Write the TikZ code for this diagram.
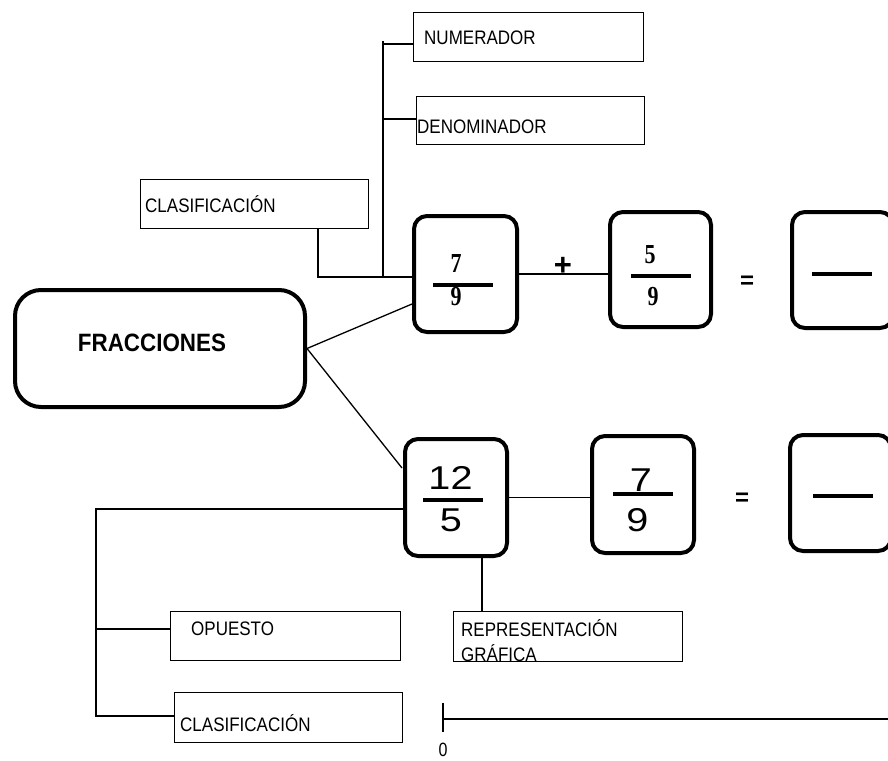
\documentclass[tikz,border=0pt]{standalone}
\usepackage{graphicx}
\usepackage{fontspec}
\setmainfont{Liberation Sans}
\newfontfamily\digserif{Liberation Serif}
\usetikzlibrary{calc}
\newcommand\labtxt[1]{\scalebox{1}[1.15]{\fontsize{17}{20}\selectfont #1}}
\newcommand\topdig[1]{\scalebox{1}[1.25]{\digserif\bfseries\fontsize{22}{22}\selectfont #1}}
\newcommand\botdig[1]{\scalebox{1.2}[1]{\fontsize{33}{33}\selectfont #1}}
\begin{document}
\begin{tikzpicture}[x=1pt,y=-1pt,
  lbox/.style={draw, line width=1.4pt, inner sep=0pt},
  lbl/.style={inner sep=0pt, text height=14pt, text depth=0pt, anchor=west},
  fbox/.style={draw, line width=4pt, rounded corners=13pt, inner sep=0pt},
  bigbox/.style={draw, line width=4pt, rounded corners=26pt, inner sep=0pt},
  conn/.style={line width=1.3pt},
  bar/.style={line width=4.5pt},
  dig/.style={inner sep=0pt},
  sym/.style={inner sep=0pt, font=\bfseries\fontsize{24}{24}\selectfont}]
\useasboundingbox (0,0) rectangle (888,760);
\clip (0,0) rectangle (888,760);

% label boxes
\node[lbox, minimum width=230pt, minimum height=49pt] (numer) at (528.5,37) {};
\node[lbl] (numert) at (424,37.5) {\labtxt{NUMERADOR}};
\node[lbox, minimum width=228pt, minimum height=48pt] (denom) at (530.5,120.5) {};
\node[lbl] (denomt) at (417,126) {\labtxt{DENOMINADOR}};
\node[lbox, minimum width=228pt, minimum height=49pt] (clas1) at (254.5,204) {};
\node[lbl] (clas1t) at (145,205) {\labtxt{CLASIFICACIÓN}};
\node[lbox, minimum width=230pt, minimum height=49pt] (opu) at (285.5,636) {};
\node[lbl] (oput) at (191,628) {\labtxt{OPUESTO}};
\node[lbox, minimum width=228pt, minimum height=50pt] (clas2) at (288.5,717.5) {};
\node[lbl] (clas2t) at (180,724) {\labtxt{CLASIFICACIÓN}};
\node[lbox, minimum width=229pt, minimum height=50pt] (repr) at (568,636.5) {};
\node[lbl] (reprt1) at (461,629) {\labtxt{REPRESENTACIÓN}};
\node[lbl] (reprt2) at (461,654) {\labtxt{GRÁFICA}};

% main box
\node[bigbox, minimum width=290pt, minimum height=117pt] (fracc) at (160,348.5) {};
\node[inner sep=0pt] (fracct) at (152,343) {\scalebox{1}[1.12]{\bfseries\fontsize{22.4}{24}\selectfont FRACCIONES}};

% fraction boxes
\node[fbox, minimum width=103pt, minimum height=116pt] (f1) at (465.5,274) {};
\node[fbox, minimum width=101pt, minimum height=115pt] (f2) at (660.5,269.5) {};
\node[fbox, minimum width=101pt, minimum height=116pt] (f3) at (842.5,270) {};
\node[fbox, minimum width=102pt, minimum height=117pt] (g1) at (456,497.5) {};
\node[fbox, minimum width=102pt, minimum height=117pt] (g2) at (643,494.5) {};
\node[fbox, minimum width=101pt, minimum height=116pt] (g3) at (840.5,493) {};

% fraction bars
\draw[bar] (433,285) -- (493,285);
\draw[bar] (631,276) -- (691,276);
\draw[bar] (812,274) -- (872,274);
\draw[bar] (423,500) -- (483,500);
\draw[bar] (613,494) -- (673,494);
\draw[bar] (813,496) -- (873,496);

% digits
\node[dig] (n1) at (456,263) {\topdig{7}};
\node[dig] (d1) at (456,297) {\topdig{9}};
\node[dig] (n2) at (650,255) {\topdig{5}};
\node[dig] (d2) at (653,297) {\topdig{9}};
\node[dig] (n3) at (450.5,478) {\botdig{12}};
\node[dig] (d3) at (451,520) {\botdig{5}};
\node[dig] (n4) at (641,480) {\botdig{7}};
\node[dig] (d4) at (637.5,520) {\botdig{9}};

% symbols
\node[sym, font=\bfseries\fontsize{31}{31}\selectfont] (plus) at (563,266) {+};
\node[sym] (eq1) at (747,282) {=};
\node[sym] (eq2) at (742,499) {=};

% connectors: upper bracket
\coordinate (b1top) at (383,41);
\coordinate (b1bot) at (383,277);
\coordinate (t1) at (383,44);
\coordinate (t2) at (383,119);
\draw[conn] (b1top) -- (b1bot);
\draw[conn] (t1) -- (t1 -| numer.west);
\draw[conn] (t2) -- (t2 -| denom.west);
\coordinate (c1) at (318,277);
\draw[conn] (c1 |- clas1.south) -- (c1) -- (c1 -| f1.west);

% from FRACCIONES
\coordinate (f1in) at (412,304);
\coordinate (g1in) at (402,468);
\draw[conn] (fracc.east) -- (f1in);
\draw[conn] (fracc.east) -- (g1in);

% row links
\draw[conn] (f1.east) -- (f1.east -| f2.west);
\draw[conn] (g1.east) -- (g1.east -| g2.west);

% lower bracket
\coordinate (b2a) at (96,509);
\coordinate (b2b) at (96,716);
\coordinate (b2c) at (96,629);
\draw[conn] (b2a -| g1.west) -- (b2a) -- (b2b) -- (b2b -| clas2.west);
\draw[conn] (b2c) -- (b2c -| opu.west);

% to representation
\coordinate (r1) at (482,600);
\draw[conn] (r1 |- g1.south) -- (r1 |- repr.north);

% number line
\coordinate (z0up) at (443,703);
\coordinate (z0dn) at (443,732);
\coordinate (z0) at (443,719);
\coordinate (zend) at (888,719);
\draw[conn] (z0up) -- (z0dn);
\draw[conn] (z0) -- (zend);
\node[inner sep=0pt] (zero) at (443,750) {\scalebox{1}[1.2]{\fontsize{16}{16}\selectfont 0}};
\end{tikzpicture}
\end{document}
